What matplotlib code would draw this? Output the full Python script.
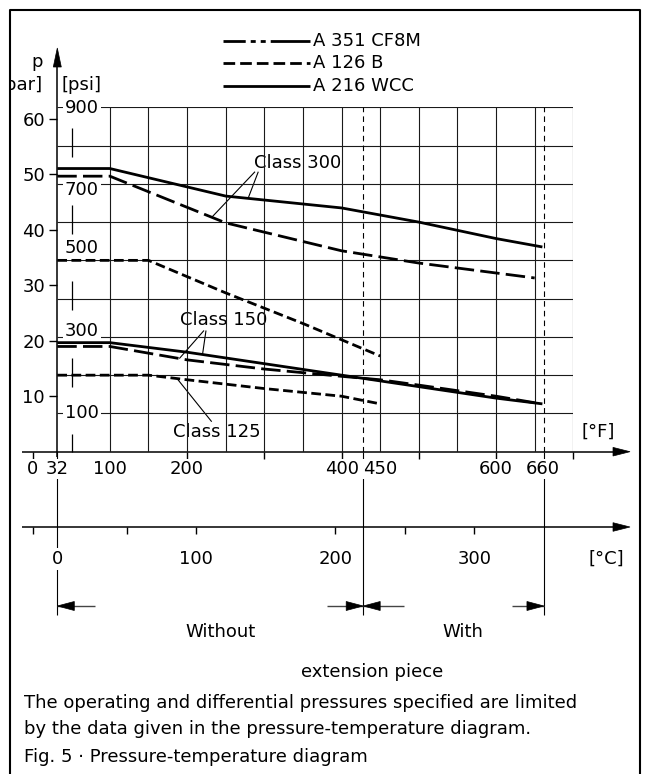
import numpy as np
import matplotlib
matplotlib.use("Agg")
from matplotlib import pyplot as plt
from matplotlib import transforms as mtrans
from matplotlib.lines import Line2D
from matplotlib.patches import Polygon

plt.rcParams['font.family'] = ['DejaVu Sans']
plt.rcParams['lines.scale_dashes'] = False
plt.rcParams['lines.solid_capstyle'] = 'butt'
plt.rcParams['lines.dash_capstyle'] = 'butt'

# curves: temperature [degF], pressure [psi]
wcc300_t = [32, 100, 250, 400, 500, 600, 660]
wcc300_p = [740, 740, 668, 637, 600, 557, 535]
cf8m300_t = [32, 100, 250, 400, 500, 600, 650]
cf8m300_p = [720, 720, 598, 525, 493, 467, 454]
b250_t = [32, 150, 250, 350, 450]
b250_p = [500, 500, 415, 335, 250]
wcc150_t = [32, 100, 200, 300, 400, 500, 600, 660]
wcc150_p = [285, 285, 260, 230, 200, 170, 140, 125]
cf8m150_t = [32, 100, 200, 300, 400, 450, 500, 600, 650]
cf8m150_p = [275, 275, 240, 216, 197, 188, 174, 145, 128]
b125_t = [32, 150, 200, 300, 400, 450]
b125_p = [200, 200, 188, 165, 145, 125]

bar_ticks = [10, 20, 30, 40, 50, 60]
psi_labels = [100, 300, 500, 700, 900]
psi_dy = [0, 6, 12, -6, -1]          # label nudges in pixels
degF_labels = [0, 32, 100, 200, 400, 450, 600, 660]
degF_ticks = [0, 200, 300, 400, 500, 600, 700]
degC_labels = [0, 100, 200, 300]
degC_ticks = [-17.8, 50, 100, 200, 250, 300]
degC_limits = [0, 220, 350]

legend_names = ['A 351 CF8M', 'A 126 B', 'A 216 WCC']

FS = 13
W, H = 648, 774
X0, X1 = 57.3, 573.3     # pixel columns of 32 degF and 700 degF
Y0, Y1 = 451.7, 107.3    # pixel rows of 0 psi and 900 psi
T0, T1, P1 = 32, 700, 900
sx = (X1 - X0) / (T1 - T0)
sy = (Y0 - Y1) / P1
PSI_PER_BAR = 14.5038


def tF(px):
    return T0 + (px - X0) / sx


def c2f(c):
    return np.asarray(c) * 1.8 + 32


def row(p):
    return Y0 - np.asarray(p) * sy


fig = plt.figure(figsize=(W / 100, H / 100), dpi=100)

# layout axes: x in degF, y in pixel rows
lay = fig.add_axes([0, 0, 1, 1], zorder=0)
lay.set_xlim(tF(0), tF(W))
lay.set_ylim(H, 0)
lay.axis('off')

ax = fig.add_axes([X0 / W, 1 - Y0 / H, (X1 - X0) / W, (Y0 - Y1) / H], zorder=1)
ax.patch.set_visible(False)

axb = ax.twinx()
axb.set_ylim(0, P1 / PSI_PER_BAR)
axb.yaxis.tick_left()
axb.set_yticks(bar_ticks)
axb.tick_params(axis='y', length=5.8, width=1.0, direction='out', pad=3,
                labelsize=FS, left=True, labelleft=True, right=False, labelright=False)
for s in axb.spines.values():
    s.set_visible(False)

ax.set_xlim(T0, T1)
ax.set_ylim(0, P1)
ax.set_xticks(np.arange(100, 701, 50))
ax.set_yticks(np.arange(100, 901, 100))
ax.set_axisbelow(True)
ax.grid(True, color='#1a1a1a', lw=0.8)
ax.tick_params(length=0, labelbottom=False, labelleft=False, labelright=False)
for s in ax.spines.values():
    s.set_visible(False)

# curves
long_dash = (0, (14, 4.5))
short_dash = (0, (7, 3.2))
cw = 2.0
ax.plot(wcc300_t, wcc300_p, color='k', lw=cw, zorder=4, clip_on=False)
ax.plot(cf8m300_t, cf8m300_p, color='k', lw=cw, ls=long_dash, zorder=4, clip_on=False)
ax.plot(b250_t, b250_p, color='k', lw=cw, ls=short_dash, zorder=4, clip_on=False)
ax.plot(wcc150_t, wcc150_p, color='k', lw=cw, zorder=4, clip_on=False)
ax.plot(cf8m150_t, cf8m150_p, color='k', lw=cw, ls=long_dash, zorder=4, clip_on=False)
ax.plot(b125_t, b125_p, color='k', lw=cw, ls=short_dash, zorder=4, clip_on=False)

# limits with / without extension piece
YEND = 615
for c in degC_limits[1:]:
    ax.plot([c2f(c)] * 2, [0, P1], color='k', lw=0.8, ls=(0, (4, 3)), zorder=2)
for c in degC_limits:
    lay.plot([c2f(c)] * 2, [Y0, YEND], color='k', lw=0.8, zorder=1)

# psi scale
psi_x = tF(72)
for p in [0, 200, 400, 600, 800]:
    ax.plot([psi_x, psi_x], [max(p - 30, 0), p + 45], color='k', lw=0.9, zorder=1,
            clip_on=False)
for p, dy in zip(psi_labels, psi_dy):
    tr = mtrans.offset_copy(ax.get_yaxis_transform(), fig=fig, x=7.5, y=dy, units='dots')
    ax.text(0, p, str(p), transform=tr, ha='left', va='center', fontsize=FS,
            zorder=2.5, bbox=dict(facecolor='white', edgecolor='none', pad=1.5))

# y axis with arrow
lay.plot([T0, T0], [457, 60], color='k', lw=1.1)


def head(x, y, direction, L=17, hw=4.3):
    if direction == 'up':
        pts = [(x, y), (x - hw / sx, y + L), (x + hw / sx, y + L)]
    elif direction == 'left':
        pts = [(x, y), (x + L / sx, y - hw), (x + L / sx, y + hw)]
    else:
        pts = [(x, y), (x - L / sx, y - hw), (x - L / sx, y + hw)]
    lay.add_patch(Polygon(pts, closed=True, fc='k', ec='k', lw=0.5, zorder=4))


head(T0, 48, 'up', L=19, hw=4)
lay.text(tF(36.7), 61.7, 'p', ha='center', va='center', fontsize=FS)
tb = lay.text(tF(43), 85, '[bar]', ha='right', va='center', fontsize=FS)
tb.set_clip_box(mtrans.TransformedBbox(mtrans.Bbox([[11 / W, 0], [1, 1]]), fig.transFigure))
tb.set_clip_on(True)
lay.text(tF(62), 85, '[psi]', ha='left', va='center', fontsize=FS)

# degF axis
lay.plot([tF(22), tF(620)], [Y0, Y0], color='k', lw=1.1)
head(tF(630), Y0, 'right')
for f in degF_ticks:
    lay.plot([f, f], [Y0, Y0 + 7], color='k', lw=1.0)
for f in degF_labels:
    lay.text(f, 469, str(f), ha='center', va='center', fontsize=FS, zorder=3,
             bbox=dict(facecolor='white', edgecolor='none', pad=0.5))
lay.text(tF(598), 431.7, '[°F]', ha='center', va='center', fontsize=FS)

# degC axis
YC = 527
lay.plot([tF(22), tF(620)], [YC, YC], color='k', lw=1.1)
head(tF(630), YC, 'right')
for c in degC_ticks:
    lay.plot([c2f(c)] * 2, [YC, YC + 7], color='k', lw=1.0)
for c in degC_labels:
    lay.text(c2f(c), 559, str(c), ha='center', va='center', fontsize=FS, zorder=3,
             bbox=dict(facecolor='white', edgecolor='none', pad=1.5))
lay.text(tF(606), 559, '[°C]', ha='center', va='center', fontsize=FS)

# range arrows
YA = 606
for tip, tail, d in [(c2f(0), tF(95), 'left'), (c2f(220), tF(327), 'right'),
                     (c2f(220), tF(404), 'left'), (c2f(350), tF(512.5), 'right')]:
    lay.plot([tail, tip], [YA, YA], color='#444', lw=1.0)
    head(tip, YA, d, L=17, hw=4.5)
lay.text(tF(221), 632, 'Without', ha='center', va='center', fontsize=FS)
lay.text(tF(462.5), 632, 'With', ha='center', va='center', fontsize=FS)
lay.text(tF(372), 672, 'extension piece', ha='center', va='center', fontsize=FS)

# class annotations
def leader(xa, ya, t, p):
    lay.plot([tF(xa), t], [ya, row(p)], color='k', lw=0.8, zorder=3)


lay.text(tF(297.5), 163.3, 'Class 300', ha='center', va='center', fontsize=FS)
leader(255, 171.7, 232, np.interp(232, cf8m300_t, cf8m300_p))
leader(258.3, 171.7, 279, np.interp(279, wcc300_t, wcc300_p))
lay.text(tF(223.3), 320, 'Class 150', ha='center', va='center', fontsize=FS)
leader(204, 330.5, 190, np.interp(190, cf8m150_t, cf8m150_p))
leader(206, 330.5, 220, np.interp(220, wcc150_t, wcc150_p))
lay.text(tF(216.7), 432, 'Class 125', ha='center', va='center', fontsize=FS)
leader(211.7, 421.7, 187, np.interp(187, b125_t, b125_p))

# legend
leg_styles = [(0, (16, 3.6, 3.6, 3.6, 3.6, 3.6, 45, 10)), (0, (8.4, 3.6)), '-']
for name, ls, yy in zip(legend_names, leg_styles, [41, 63.3, 86]):
    lay.plot([tF(223), tF(310)], [yy, yy], color='k', lw=cw, ls=ls)
    lay.text(tF(313), yy, name, ha='left', va='center', fontsize=FS)

# frame
fig.add_artist(Line2D([10 / W, 10 / W, 640 / W, 640 / W], [0, 1 - 10 / H, 1 - 10 / H, 0],
                      transform=fig.transFigure, color='k', lw=1.5))

# caption
fig.text(24 / W, 1 - 703 / H, 'The operating and differential pressures specified are limited',
         ha='left', va='center', fontsize=FS)
fig.text(24 / W, 1 - 729 / H, 'by the data given in the pressure-temperature diagram.',
         ha='left', va='center', fontsize=FS)
fig.text(24 / W, 1 - 757 / H, 'Fig. 5 · Pressure-temperature diagram',
         ha='left', va='center', fontsize=FS)

fig.savefig('out.png', dpi=100)
